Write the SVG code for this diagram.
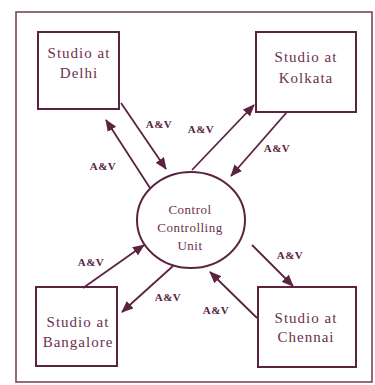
<svg xmlns="http://www.w3.org/2000/svg" width="375" height="385" viewBox="0 0 375 385">
<defs>
<marker id="ah" viewBox="0 0 12 10" refX="11" refY="5" markerWidth="12" markerHeight="10" markerUnits="userSpaceOnUse" orient="auto">
<path d="M0,0 L12,5 L0,10 Z" fill="#5a2340"/>
</marker>
<style>
.frame{fill:none;stroke:#7a4560;stroke-width:1.6}
.box{fill:#ffffff;stroke:#5a2340;stroke-width:2}
.lbl{font-family:"Liberation Serif","Times New Roman",serif;font-size:15px;fill:#6a3050;text-anchor:middle;letter-spacing:1px}
.av{font-family:"Liberation Serif","Times New Roman",serif;font-size:11px;font-weight:bold;fill:#5a2340;text-anchor:middle;letter-spacing:0.5px}
.con{stroke:#5a2340;stroke-width:1.8;fill:none;marker-end:url(#ah)}
</style>
</defs>
<rect x="0" y="0" width="375" height="385" fill="#ffffff"/>
<rect class="frame" x="16" y="12" width="356" height="370"/>

<g id="delhi">
<rect class="box" x="38" y="32" width="81" height="77"/>
<text class="lbl" x="79" y="58">Studio at</text>
<text class="lbl" x="79" y="78">Delhi</text>
</g>
<g id="kolkata">
<rect class="box" x="256" y="32" width="100" height="80"/>
<text class="lbl" x="306" y="62">Studio at</text>
<text class="lbl" x="306" y="83">Kolkata</text>
</g>
<g id="bangalore">
<rect class="box" x="36" y="287" width="81" height="79"/>
<text class="lbl" x="78" y="327">Studio at</text>
<text class="lbl" x="78" y="347">Bangalore</text>
</g>
<g id="chennai">
<rect class="box" x="258" y="287" width="98" height="80"/>
<text class="lbl" x="306" y="323">Studio at</text>
<text class="lbl" x="306" y="342">Chennai</text>
</g>
<g id="ccu">
<ellipse class="box" cx="191" cy="220" rx="54" ry="48"/>
<text class="lbl" x="190" y="214" style="font-size:13px;letter-spacing:0.5px">Control</text>
<text class="lbl" x="190" y="232" style="font-size:13px;letter-spacing:0.5px">Controlling</text>
<text class="lbl" x="190" y="250" style="font-size:13px;letter-spacing:0.5px">Unit</text>
</g>

<g id="connectors">
<line class="con" x1="150" y1="188" x2="106" y2="120"/>
<line class="con" x1="121" y1="103" x2="166" y2="169"/>
<line class="con" x1="192" y1="170" x2="254" y2="105"/>
<line class="con" x1="287" y1="112" x2="231" y2="176"/>
<line class="con" x1="83" y1="288" x2="144" y2="245"/>
<line class="con" x1="173" y1="266" x2="122" y2="312"/>
<line class="con" x1="252" y1="245" x2="293" y2="286"/>
<line class="con" x1="257" y1="318" x2="210" y2="272"/>
<text class="av" x="159" y="128">A&amp;V</text>
<text class="av" x="103" y="170">A&amp;V</text>
<text class="av" x="201" y="133">A&amp;V</text>
<text class="av" x="277" y="152">A&amp;V</text>
<text class="av" x="91" y="266">A&amp;V</text>
<text class="av" x="168" y="301">A&amp;V</text>
<text class="av" x="290" y="259">A&amp;V</text>
<text class="av" x="216" y="314">A&amp;V</text>
</g>
</svg>
